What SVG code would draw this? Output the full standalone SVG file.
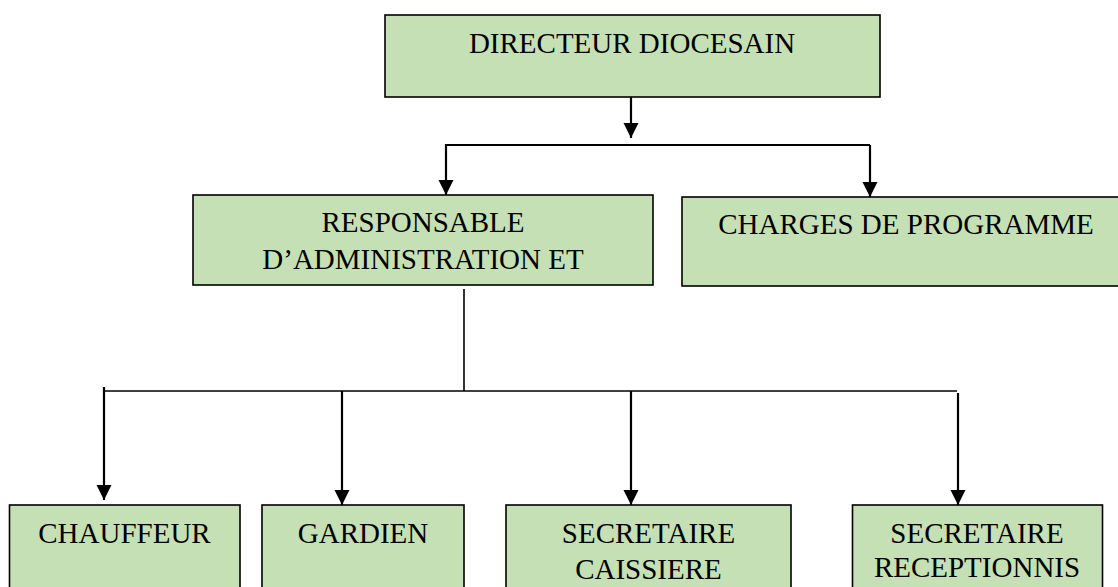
<svg xmlns="http://www.w3.org/2000/svg" width="1118" height="587" viewBox="0 0 1118 587">
<style>
.box{fill:#C5E0B4;stroke:#000;stroke-width:1.6}
.t{font-family:"Liberation Serif","Times New Roman",serif;font-size:29px;fill:#000;text-anchor:middle}
.arr{stroke:#000;stroke-width:2.2;fill:none}
.ln{stroke:#000;stroke-width:1.6;fill:none}
</style>
<defs>
<marker id="ah" markerUnits="userSpaceOnUse" markerWidth="16" markerHeight="16" viewBox="0 0 16 16" refX="15" refY="8" orient="auto">
<path d="M0,0.5 L15,8 L0,15.5 Z" fill="#000"/>
</marker>
</defs>
<rect width="1118" height="587" fill="#fff"/>
<g id="n-directeur">
<rect class="box" x="385" y="15" width="495" height="82"/>
<text class="t" x="632" y="53">DIRECTEUR DIOCESAIN</text>
</g>
<g id="n-responsable">
<rect class="box" x="193" y="195" width="460" height="90"/>
<text class="t" x="423" y="232">RESPONSABLE</text>
<text class="t" x="423" y="269">D’ADMINISTRATION ET</text>
</g>
<g id="n-charges">
<rect class="box" x="682" y="197" width="460" height="89"/>
<text class="t" x="906" y="234">CHARGES DE PROGRAMME</text>
</g>
<g id="n-chauffeur">
<rect class="box" x="9.5" y="505" width="230.5" height="100"/>
<text class="t" x="124.5" y="543">CHAUFFEUR</text>
</g>
<g id="n-gardien">
<rect class="box" x="262" y="505" width="202" height="100"/>
<text class="t" x="363" y="543">GARDIEN</text>
</g>
<g id="n-caissiere">
<rect class="box" x="506" y="505" width="285" height="100"/>
<text class="t" x="648.5" y="543">SECRETAIRE</text>
<text class="t" x="648.5" y="579">CAISSIERE</text>
</g>
<g id="n-receptionnis">
<rect class="box" x="852.5" y="505" width="250" height="100"/>
<text class="t" x="977" y="543">SECRETAIRE</text>
<text class="t" x="977" y="577">RECEPTIONNIS</text>
</g>
<g id="connectors">
<line class="arr" x1="631" y1="97" x2="631" y2="138" marker-end="url(#ah)"/>
<polyline class="arr" points="870,145 446,145 446,195" marker-end="url(#ah)"/>
<line class="arr" x1="870" y1="145" x2="870" y2="197" marker-end="url(#ah)"/>
<line class="ln" x1="464" y1="289" x2="464" y2="391"/>
<line class="ln" x1="105" y1="391" x2="957" y2="391"/>
<line class="arr" x1="104" y1="387" x2="104" y2="500" marker-end="url(#ah)"/>
<line class="arr" x1="342" y1="391" x2="342" y2="505" marker-end="url(#ah)"/>
<line class="arr" x1="631" y1="391" x2="631" y2="505" marker-end="url(#ah)"/>
<line class="arr" x1="958" y1="393" x2="958" y2="505" marker-end="url(#ah)"/>
</g>
</svg>
